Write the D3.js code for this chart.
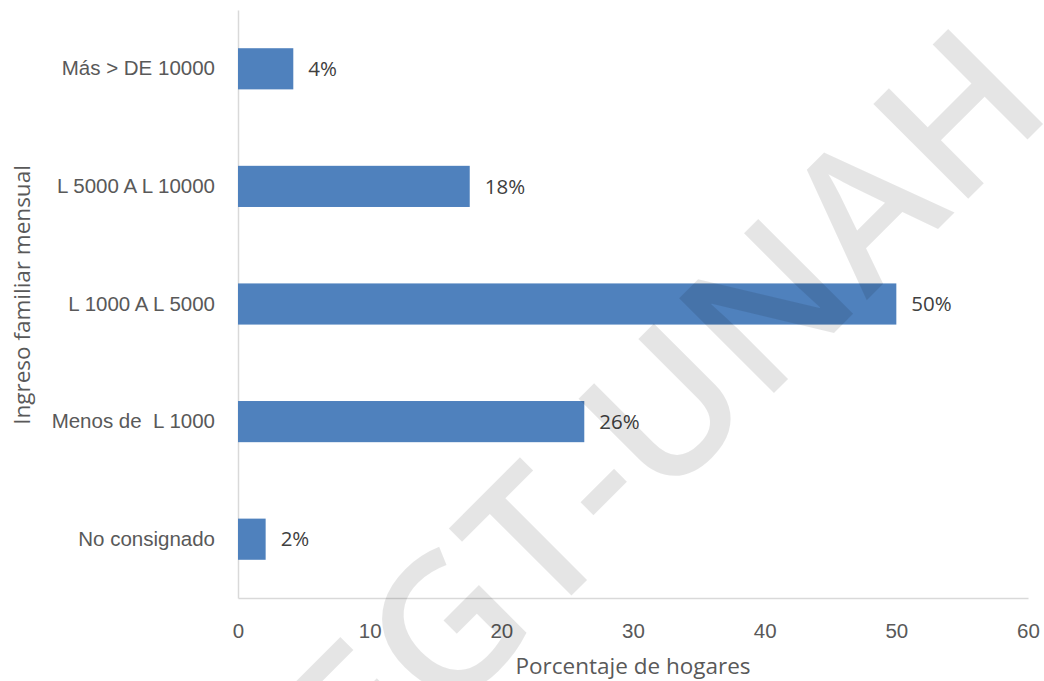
<!DOCTYPE html>
<html>
<head>
<meta charset="utf-8">
<script src="https://cdn.jsdelivr.net/npm/d3@7"></script>
<style>
    body { margin: 0; background: #fff; }
    svg { display: block; }
    text { white-space: pre; }
</style>
</head>
<body>
<div id="chart"></div>
<script>
// categories, top to bottom
const categories = ["Más > DE 10000", "L 5000 A L 10000", "L 1000 A L 5000", "Menos de  L 1000", "No consignado"];
const values = [4.2, 17.6, 50.0, 26.3, 2.1];
const valueLabels = ["4%", "18%", "50%", "26%", "2%"];
const xTicks = [0, 10, 20, 30, 40, 50, 60];
const xTitle = "Porcentaje de hogares";
const yTitle = "Ingreso familiar mensual";
const watermark = "EGT-UNAH";

class incomeBarChart {
    constructor(parentElement) {
        this.parentElement = parentElement;
        this.data = categories.map((c, i) => ({cat: c, value: values[i], label: valueLabels[i]}));
        this.initVis();
    }

    initVis() {
        let vis = this;

        vis.margin = {top: 10, right: 16, bottom: 83, left: 238};
        vis.width = 1044 - vis.margin.left - vis.margin.right;
        vis.height = 681 - vis.margin.top - vis.margin.bottom;

        vis.root = d3.select("#" + vis.parentElement).append("svg")
            .attr("width", 1044)
            .attr("height", 681)
            .style("font-family", "'Open Sans', sans-serif");

        vis.svg = vis.root.append("g")
            .attr("transform", "translate(" + vis.margin.left + "," + vis.margin.top + ")");

        vis.x = d3.scaleLinear()
            .domain([0, 60])
            .range([0, vis.width]);

        vis.y = d3.scaleBand()
            .domain(categories)
            .range([0, vis.height])
            .paddingInner(0.65)
            .paddingOuter(0.325);

        vis.updateVis();
    }

    updateVis() {
        let vis = this;

        // x axis (no ticks, light line)
        let xAxis = vis.svg.append("g")
            .attr("transform", "translate(0," + vis.height + ")")
            .call(d3.axisBottom(vis.x).tickValues(xTicks).tickSize(0).tickPadding(25));
        xAxis.select(".domain").attr("stroke", "#d9d9d9").attr("stroke-width", 1.5);
        xAxis.selectAll("text")
            .attr("fill", "#595959")
            .style("font-size", "20.5px");

        // y axis
        let yAxis = vis.svg.append("g")
            .call(d3.axisLeft(vis.y).tickSize(0).tickPadding(23));
        yAxis.select(".domain").attr("stroke", "#d9d9d9").attr("stroke-width", 1.5);
        yAxis.selectAll("text")
            .attr("fill", "#595959")
            .style("font-size", "20.5px");

        // bars
        vis.svg.selectAll("rect.bar")
            .data(vis.data)
            .enter().append("rect")
            .attr("class", "bar")
            .attr("x", 0)
            .attr("y", d => vis.y(d.cat))
            .attr("width", d => vis.x(d.value))
            .attr("height", vis.y.bandwidth())
            .attr("fill", "#4f81bd");

        // value labels
        vis.svg.selectAll("text.val")
            .data(vis.data)
            .enter().append("text")
            .attr("class", "val")
            .attr("x", d => vis.x(d.value) + 15)
            .attr("y", d => vis.y(d.cat) + vis.y.bandwidth() / 2)
            .attr("dy", "0.35em")
            .attr("fill", "#404040")
            .style("font-size", "20.5px")
            .text(d => d.label);

        // axis titles
        vis.root.append("text")
            .attr("x", 633)
            .attr("y", 674)
            .attr("text-anchor", "middle")
            .attr("fill", "#595959")
            .style("font-size", "22.5px")
            .text(xTitle);

        vis.root.append("text")
            .attr("transform", "translate(30,295) rotate(-90)")
            .attr("text-anchor", "middle")
            .attr("fill", "#595959")
            .style("font-size", "22.5px")
            .text(yTitle);

        // watermark on top
        vis.root.append("text")
            .attr("transform", "translate(369,798) rotate(-45)")
            .attr("textLength", 971)
            .attr("lengthAdjust", "spacing")
            .attr("fill", "#000")
            .attr("fill-opacity", 0.102)
            .style("font-size", "188px")
            .style("font-weight", 600)
            .style("pointer-events", "none")
            .text(watermark);
    }
}

new incomeBarChart("chart");
</script>
</body>
</html>
